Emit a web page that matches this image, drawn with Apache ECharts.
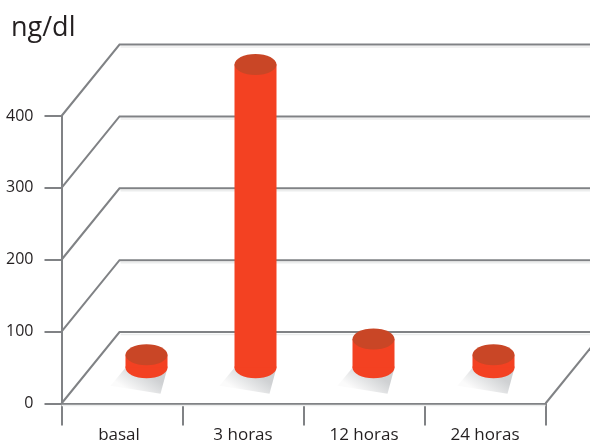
<!DOCTYPE html>
<html>
<head>
<meta charset="utf-8">
<style>html,body{margin:0;padding:0;background:#fff}#c{width:590px;height:441px}</style>
<script src="https://cdn.jsdelivr.net/npm/echarts@6/dist/echarts.min.js"></script>
</head>
<body>
<div id="c"></div>
<script>
const categories = ['basal', '3 horas', '12 horas', '24 horas'];
const values = [18, 422, 40, 18];
const yTicks = [0, 100, 200, 300, 400];
const unitLabel = 'ng/dl';

// drawing style of the fake 3D box
const DEPTH_X = 58, DEPTH_Y = -71.5;
const BAR_SHIFT = [24.5, 12.5, 9.5, 8.5];
const RX = 21, RY = 10.5;
const LINE = '#808285', LINE_SOFT = '#eceded';
const FONT = '"Open Sans"';

const chart = echarts.init(document.getElementById('c'), null, {renderer: 'canvas'});

function wallItem(params, api) {
  const v = api.value(1);
  const cs = params.coordSys;
  const y = api.coord([0, v])[1];
  const x0 = cs.x, bx = x0 + DEPTH_X, by = y + DEPTH_Y, endX = api.getWidth();
  const kids = [
    {type: 'line', shape: {x1: bx + 1, y1: by + 2.5, x2: endX, y2: by + 2.5}, style: {stroke: LINE_SOFT, lineWidth: 1.5}},
    {type: 'polyline', shape: {points: [[x0, y], [bx, by], [endX, by]]}, style: {stroke: LINE, lineWidth: 2, fill: 'none'}}
  ];
  if (v === 0) {
    const rx = cs.x + cs.width;
    kids.push({type: 'line', shape: {x1: x0, y1: y + 2, x2: rx, y2: y + 2}, style: {stroke: LINE_SOFT, lineWidth: 1.5}});
    kids.push({type: 'line', shape: {x1: rx, y1: y, x2: rx + DEPTH_X, y2: by}, style: {stroke: LINE, lineWidth: 2}});
  }
  return {type: 'group', silent: true, children: kids};
}

function barItem(params, api) {
  const i = api.value(0), v = api.value(1);
  const base = api.coord([i, 0]);
  const cx = base[0] + BAR_SHIFT[i];
  const by = base[1] + DEPTH_Y / 2;
  const ty = api.coord([i, v])[1] + DEPTH_Y / 2;
  return {
    type: 'group',
    children: [
      {type: 'polygon',
        shape: {points: [[cx - RX, by], [cx + RX, by], [cx + 14, by + 26], [cx - 36, by + 18]]},
        style: {fill: new echarts.graphic.LinearGradient(0.65, 0.2, 0.4, 1, [
          {offset: 0, color: '#cfd1d3'}, {offset: 1, color: '#fbfbfb'}])}},
      {type: 'ellipse', shape: {cx: cx, cy: by, rx: RX, ry: RY}, style: {fill: '#f34122'}},
      {type: 'rect', shape: {x: cx - RX, y: ty, width: RX * 2, height: by - ty}, style: {fill: '#f34122'}},
      {type: 'ellipse', shape: {cx: cx, cy: ty, rx: RX, ry: RY}, style: {fill: '#c94626'}}
    ]
  };
}

chart.setOption({
  animation: false,
  backgroundColor: '#fff',
  title: {text: unitLabel, left: 6, top: 10, textStyle: {fontFamily: FONT, fontSize: 27, fontWeight: 'normal', color: '#231f20'}},
  grid: {left: 61.5, top: 116, width: 484, height: 287.5, outerBoundsMode: 'none'},
  xAxis: {
    type: 'category', boundaryGap: true,
    data: categories.map((c, i) => i === 0 ? {value: c, textStyle: {padding: [0, 6, 0, 0]}} : c),
    axisLine: {lineStyle: {color: LINE, width: 2}},
    axisTick: {show: true, length: 22, lineStyle: {color: LINE, width: 2}},
    axisLabel: {margin: 23, fontFamily: FONT, fontSize: 17, color: '#231f20'},
    splitLine: {show: false}
  },
  yAxis: {
    type: 'value', min: 0, max: 400, interval: 100,
    axisLine: {show: true, lineStyle: {color: LINE, width: 2}},
    axisTick: {show: true, length: 17, lineStyle: {color: LINE, width: 2}},
    axisLabel: {margin: 28, fontFamily: FONT, fontSize: 16, color: '#231f20'},
    splitLine: {show: false}
  },
  series: [
    {type: 'custom', renderItem: wallItem, clip: false, silent: true, z: 1,
      data: yTicks.map(v => [0, v])},
    {type: 'custom', renderItem: barItem, clip: false, z: 3,
      data: values.map((v, i) => [i, v])}
  ]
});
</script>
</body>
</html>
